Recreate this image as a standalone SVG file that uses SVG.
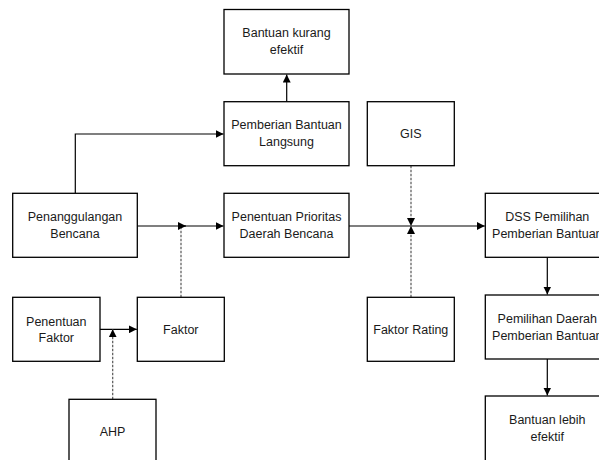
<svg xmlns="http://www.w3.org/2000/svg" width="599" height="460" viewBox="0 0 599 460">
<style>
rect{fill:#fff;stroke:#000;stroke-width:1.3}
text{font-family:"Liberation Sans",Arial,sans-serif;font-size:12.5px;fill:#1a1a1a;text-anchor:middle}
.c{fill:none;stroke:#000;stroke-width:1.2}
.d{fill:none;stroke:#555;stroke-width:1.2;stroke-dasharray:2.5,1.5}
</style>
<defs>
<marker id="a" viewBox="0 0 10 10" refX="10" refY="5" markerWidth="8" markerHeight="8" markerUnits="userSpaceOnUse" orient="auto"><path d="M0,0L10,5L0,10z" fill="#000"/></marker>
</defs>
<rect x="0" y="0" width="599" height="460" style="fill:#fff;stroke:none"/>
<g id="connectors">
<path class="c" d="M286.7,101.7V74.5" marker-end="url(#a)"/>
<path class="c" d="M75.3,193.3V134H223.5" marker-end="url(#a)"/>
<path class="c" d="M137.3,226H186" marker-end="url(#a)"/>
<path class="c" d="M180,226H223.5" marker-end="url(#a)"/>
<path class="d" d="M181,297.3V228"/>
<path class="c" d="M349,226H484.8" marker-end="url(#a)"/>
<path class="d" d="M411,165.7V226" marker-end="url(#a)"/>
<path class="d" d="M411,297.3V226" marker-end="url(#a)"/>
<path class="c" d="M100,329.3H136.8" marker-end="url(#a)"/>
<path class="d" d="M112.7,399.3V329.3" marker-end="url(#a)"/>
<path class="c" d="M547.3,257.3V294.5" marker-end="url(#a)"/>
<path class="c" d="M547.3,359V395.5" marker-end="url(#a)"/>
</g>
<g id="bantuan-kurang"><rect x="224" y="9.5" width="125" height="64.5"/><text x="286.5" y="37">Bantuan kurang</text><text x="286.5" y="54">efektif</text></g>
<g id="pemberian-langsung"><rect x="224" y="101.7" width="125" height="64"/><text x="286.5" y="129">Pemberian Bantuan</text><text x="286.5" y="146">Langsung</text></g>
<g id="gis"><rect x="367.3" y="101.7" width="87" height="64"/><text x="410.8" y="138">GIS</text></g>
<g id="penanggulangan"><rect x="12.7" y="193.3" width="124.6" height="64"/><text x="75" y="221">Penanggulangan</text><text x="75" y="238">Bencana</text></g>
<g id="prioritas"><rect x="224" y="193.3" width="125" height="64"/><text x="286.5" y="221">Penentuan Prioritas</text><text x="286.5" y="238">Daerah Bencana</text></g>
<g id="dss"><rect x="485.3" y="193.3" width="124" height="64"/><text x="547.3" y="221">DSS Pemilihan</text><text x="547.3" y="238">Pemberian Bantuan</text></g>
<g id="penentuan-faktor"><rect x="12.7" y="297.3" width="87.3" height="64"/><text x="56.3" y="326">Penentuan</text><text x="56.3" y="342">Faktor</text></g>
<g id="faktor"><rect x="137.3" y="297.3" width="87" height="64"/><text x="180.8" y="334">Faktor</text></g>
<g id="faktor-rating"><rect x="367.3" y="297.3" width="87" height="64"/><text x="410.8" y="334">Faktor Rating</text></g>
<g id="pemilihan-daerah"><rect x="485.3" y="295" width="124" height="64"/><text x="547.3" y="323">Pemilihan Daerah</text><text x="547.3" y="340">Pemberian Bantuan</text></g>
<g id="ahp"><rect x="69" y="399.3" width="87" height="80"/><text x="112.5" y="436">AHP</text></g>
<g id="bantuan-lebih"><rect x="485.3" y="396" width="124" height="80"/><text x="547.3" y="424">Bantuan lebih</text><text x="547.3" y="441">efektif</text></g>
</svg>
